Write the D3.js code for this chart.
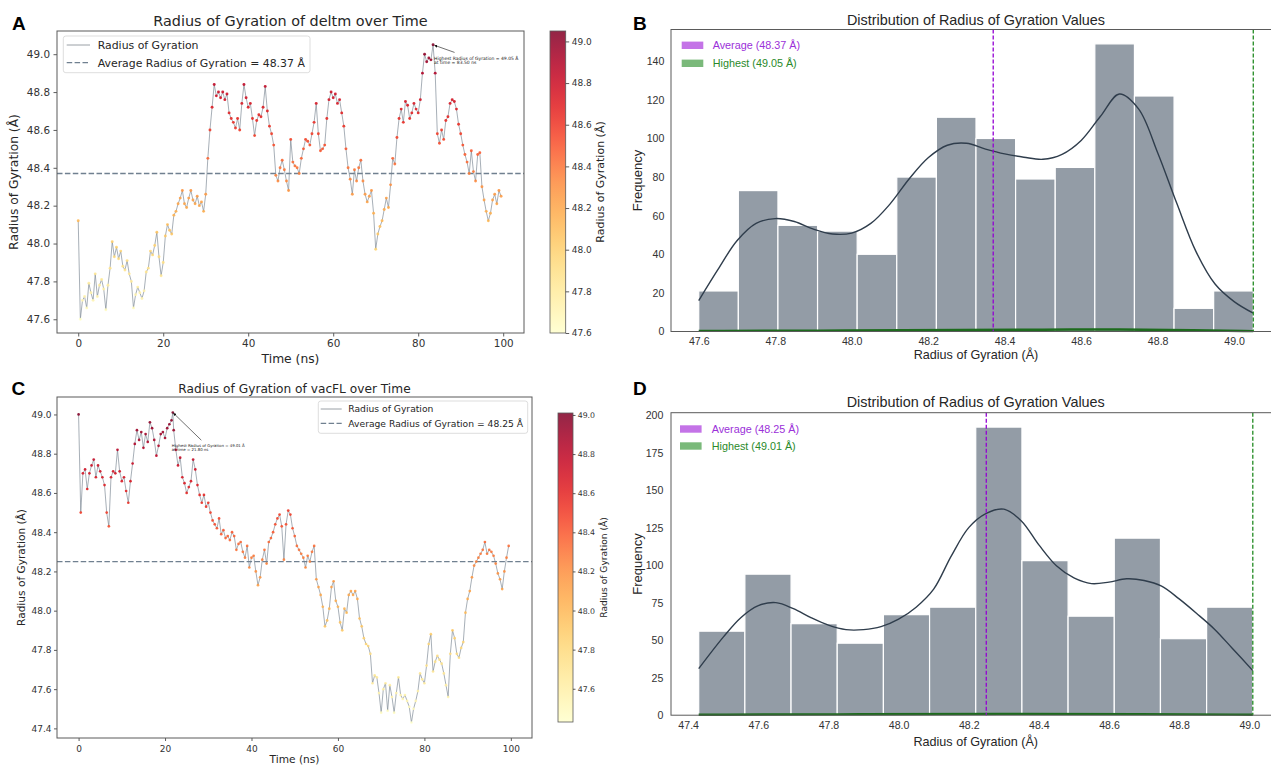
<!DOCTYPE html>
<html>
<head>
<meta charset="utf-8">
<title>Radius of Gyration – deltm and vacFL</title>
<script src="https://cdn.jsdelivr.net/npm/d3@7/dist/d3.min.js"></script>
<style>
  html, body { margin: 0; padding: 0; background: #fff; }
  svg { display: block; }
</style>
</head>
<body>
<svg id="fig" width="1271" height="765"></svg>
<script>
// ---------------- data ----------------
// Rg samples (Å) every 0.5 ns over a 0–99.9 ns trajectory
const sampleStepNs = 0.5;
const trajectoryEndNs = 99.9;

const deltmRg = [
  48.12, 47.60, 47.70, 47.72, 47.66, 47.79, 47.74, 47.70, 47.84, 47.72,
  47.78, 47.81, 47.76, 47.65, 47.78, 47.87, 48.01, 47.93, 47.98, 47.92,
  47.96, 47.88, 47.86, 47.91, 47.84, 47.80, 47.66, 47.73, 47.77, 47.74,
  47.71, 47.75, 47.85, 47.87, 47.96, 47.94, 47.99, 48.06, 47.93, 47.83,
  47.90, 48.04, 48.10, 48.07, 48.05, 48.15, 48.17, 48.21, 48.24, 48.28,
  48.21, 48.19, 48.24, 48.28, 48.23, 48.21, 48.25, 48.20, 48.22, 48.17,
  48.26, 48.45, 48.60, 48.72, 48.84, 48.78, 48.80, 48.77, 48.80, 48.76,
  48.79, 48.69, 48.66, 48.64, 48.61, 48.66, 48.60, 48.74, 48.84, 48.77,
  48.72, 48.74, 48.66, 48.57, 48.65, 48.68, 48.67, 48.72, 48.83, 48.70,
  48.62, 48.58, 48.52, 48.36, 48.33, 48.40, 48.44, 48.39, 48.33, 48.28,
  48.55, 48.43, 48.41, 48.40, 48.37, 48.45, 48.50, 48.55, 48.54, 48.52,
  48.58, 48.64, 48.74, 48.58, 48.49, 48.50, 48.52, 48.66, 48.76, 48.80,
  48.77, 48.79, 48.74, 48.76, 48.69, 48.62, 48.50, 48.40, 48.34, 48.26,
  48.39, 48.33, 48.40, 48.44, 48.33, 48.26, 48.22, 48.25, 48.28, 48.16,
  47.97, 48.05, 48.09, 48.12, 48.18, 48.24, 48.19, 48.31, 48.45, 48.42,
  48.56, 48.66, 48.71, 48.64, 48.75, 48.73, 48.66, 48.69, 48.74, 48.71,
  48.69, 48.76, 48.90, 49.00, 48.96, 48.98, 48.97, 49.05, 48.90, 48.58,
  48.53, 48.60, 48.55, 48.65, 48.67, 48.74, 48.76, 48.75, 48.71, 48.63,
  48.58, 48.52, 48.47, 48.43, 48.37, 48.49, 48.38, 48.33, 48.47, 48.48,
  48.30, 48.23, 48.17, 48.12, 48.16, 48.23, 48.26, 48.21, 48.28, 48.25
];
const deltmAverage = 48.37;

const vacflRg = [
  49.00, 48.50, 48.70, 48.72, 48.62, 48.70, 48.74, 48.77, 48.68, 48.74,
  48.71, 48.68, 48.64, 48.50, 48.43, 48.68, 48.71, 48.70, 48.82, 48.71,
  48.66, 48.68, 48.61, 48.55, 48.66, 48.75, 48.85, 48.92, 48.87, 48.91,
  48.83, 48.90, 48.86, 48.96, 48.93, 48.87, 48.79, 48.84, 48.90, 48.91,
  48.88, 48.93, 48.95, 48.97, 48.92, 48.82, 48.74, 48.78, 48.68, 48.65,
  48.60, 48.63, 48.66, 48.77, 48.72, 48.64, 48.59, 48.55, 48.59, 48.53,
  48.55, 48.50, 48.46, 48.44, 48.42, 48.47, 48.39, 48.41, 48.37, 48.38,
  48.36, 48.40, 48.38, 48.31, 48.34, 48.35, 48.30, 48.27, 48.33, 48.22,
  48.27, 48.28, 48.20, 48.13, 48.17, 48.26, 48.31, 48.24, 48.35, 48.37,
  48.40, 48.44, 48.47, 48.49, 48.43, 48.26, 48.44, 48.51, 48.49, 48.42,
  48.38, 48.33, 48.31, 48.29, 48.27, 48.22, 48.28, 48.25, 48.30, 48.33,
  48.16, 48.12, 48.08, 48.02, 47.92, 47.95, 48.01, 48.12, 48.15, 48.05,
  48.02, 47.94, 47.90, 48.01, 47.99, 48.08, 48.10, 48.08, 48.10, 48.06,
  47.96, 47.92, 47.86, 47.83, 47.82, 47.78, 47.63, 47.67, 47.66, 47.58,
  47.48, 47.60, 47.63, 47.49, 47.62, 47.56, 47.48, 47.58, 47.66, 47.57,
  47.55, 47.57, 47.54, 47.51, 47.43, 47.50, 47.54, 47.59, 47.68, 47.65,
  47.63, 47.72, 47.83, 47.88, 47.69, 47.74, 47.77, 47.75, 47.73, 47.68,
  47.62, 47.56, 47.78, 47.90, 47.86, 47.78, 47.76, 47.81, 47.84, 47.99,
  48.06, 48.10, 48.17, 48.23, 48.25, 48.27, 48.29, 48.31, 48.35, 48.29,
  48.31, 48.30, 48.28, 48.24, 48.19, 48.16, 48.11, 48.20, 48.27, 48.33
];
// off-grid frame holding the vacFL maximum
const vacflExtraTimes = [21.8];
const vacflExtraRg = [49.01];
const vacflAverage = 48.25;

// histogram counts (1000 frames each) over equal-width bins from min to max Rg
const deltmHistCounts = [21, 73, 55, 52, 40, 80, 111, 100, 79, 85, 149, 122, 12, 21];
const vacflHistCounts = [56, 94, 61, 48, 67, 72, 192, 103, 66, 118, 51, 72];

// KDE curves, in frequency units
const deltmKdeX = [47.60, 47.65, 47.70, 47.75, 47.80, 47.85, 47.90, 47.95, 48.00, 48.05,
                   48.10, 48.15, 48.20, 48.25, 48.30, 48.35, 48.40, 48.45, 48.50, 48.55,
                   48.60, 48.65, 48.70, 48.75, 48.80, 48.85, 48.90, 48.95, 49.00, 49.05];
const deltmKdeY = [16, 32, 47, 56, 58.5, 57, 53, 50.5, 51, 56,
                   66, 79, 90, 96.5, 97.5, 94.5, 92, 90.3, 89.2, 91.8,
                   99, 111.4, 123, 115.3, 92.6, 66.4, 41.5, 24.6, 15.5, 9.5];
const vacflKdeX = [47.43, 47.50, 47.55, 47.60, 47.65, 47.70, 47.75, 47.80, 47.85, 47.90,
                   47.95, 48.00, 48.05, 48.10, 48.15, 48.20, 48.25, 48.30, 48.35, 48.40,
                   48.45, 48.50, 48.55, 48.60, 48.65, 48.70, 48.75, 48.80, 48.85, 48.90,
                   48.95, 49.01];
const vacflKdeY = [31, 52, 65, 73, 75, 71, 65, 60, 57, 57,
                   59, 64, 72, 84, 106, 125, 134.5, 137.3, 129.5, 113.5,
                   99.6, 91.5, 87.7, 88.7, 90.9, 89.8, 86, 77.5, 67.8, 57.5,
                   45, 29.7];

// near-zero curve for the "highest" overlay
const deltmHighestX = [47.60, 48.00, 48.30, 48.50, 48.70, 48.90, 49.05];
const deltmHighestY = [0.3, 0.5, 0.8, 0.9, 1.2, 0.6, 0.2];
const vacflHighestX = [47.43, 47.90, 48.30, 48.70, 49.01];
const vacflHighestY = [0.3, 0.6, 1.0, 0.8, 0.3];

// tick labels
const timeTicks = [0, 20, 40, 60, 80, 100];
const deltmRgTicks = [47.6, 47.8, 48.0, 48.2, 48.4, 48.6, 48.8, 49.0];
const vacflRgTicks = [47.4, 47.6, 47.8, 48.0, 48.2, 48.4, 48.6, 48.8, 49.0];
const deltmColorTicks = [47.6, 47.8, 48.0, 48.2, 48.4, 48.6, 48.8, 49.0];
const vacflColorTicks = [47.6, 47.8, 48.0, 48.2, 48.4, 48.6, 48.8, 49.0];
const deltmFreqTicks = [0, 20, 40, 60, 80, 100, 120, 140];
const vacflFreqTicks = [0, 25, 50, 75, 100, 125, 150, 175, 200];
const deltmHistTicks = [47.6, 47.8, 48.0, 48.2, 48.4, 48.6, 48.8, 49.0];
const vacflHistTicks = [47.4, 47.6, 47.8, 48.0, 48.2, 48.4, 48.6, 48.8, 49.0];

// ---------------- drawing ----------------
const MPL_FONT = '"DejaVu Sans", "Liberation Sans", sans-serif';
const SNS_FONT = '"Liberation Sans", Arial, Helvetica, sans-serif';
const svg = d3.select('#fig');
const defs = svg.append('defs');

defs.append('marker').attr('id', 'arrowHead')
  .attr('viewBox', '0 0 10 10').attr('refX', 9).attr('refY', 5)
  .attr('markerWidth', 5).attr('markerHeight', 5).attr('orient', 'auto')
  .append('path').attr('d', 'M0,0 L10,5 L0,10 z').attr('fill', '#111');

function txt(g, x, y, s, o = {}) {
  return g.append('text').attr('x', x).attr('y', y).text(s)
    .attr('font-family', o.family || MPL_FONT)
    .attr('font-size', o.size || 10)
    .attr('font-weight', o.weight || 'normal')
    .attr('fill', o.fill || '#262626')
    .attr('text-anchor', o.anchor || 'start');
}
function vtxt(g, x, y, s, o = {}) {
  return g.append('text').attr('transform', `translate(${x},${y}) rotate(-90)`).text(s)
    .attr('font-family', o.family || MPL_FONT)
    .attr('font-size', o.size || 10)
    .attr('fill', o.fill || '#262626')
    .attr('text-anchor', 'middle');
}
function styleAxis(sel, size, family, color) {
  sel.attr('font-size', null).attr('font-family', null);
  sel.select('.domain').remove();
  sel.selectAll('.tick line').attr('stroke', '#333').attr('stroke-width', 0.8);
  sel.selectAll('.tick text').attr('fill', color || '#333')
    .attr('font-size', size).attr('font-family', family);
}
const withMargin = ([lo, hi]) => [lo - (hi - lo) * 0.05, hi + (hi - lo) * 0.05];

function drawSeriesPanel(p) {
  const g = svg.append('g');
  const times = p.values.map((_, i) => i * sampleStepNs);
  const pts = p.values.map((v, i) => ({ t: times[i], v }));
  (p.extraTimes || []).forEach((t, i) => pts.push({ t, v: p.extraValues[i] }));
  pts.sort((a, b) => a.t - b.t);

  const vExt = d3.extent(pts, d => d.v);
  const b = p.box;
  const x = d3.scaleLinear().domain(withMargin([0, trajectoryEndNs])).range([b.x0, b.x1]);
  const y = d3.scaleLinear().domain(withMargin(vExt)).range([b.y1, b.y0]);
  const colorOf = d3.scaleSequential(d3.interpolateYlOrRd).domain(vExt);

  const clipId = p.id + '-clip';
  defs.append('clipPath').attr('id', clipId).append('rect')
    .attr('x', b.x0).attr('y', b.y0).attr('width', b.x1 - b.x0).attr('height', b.y1 - b.y0);
  const plot = g.append('g').attr('clip-path', `url(#${clipId})`);

  plot.append('path').datum(pts)
    .attr('d', d3.line().x(d => x(d.t)).y(d => y(d.v)))
    .attr('fill', 'none').attr('stroke', '#7d8894')
    .attr('stroke-width', 0.8).attr('stroke-opacity', 0.85);

  plot.append('line')
    .attr('x1', b.x0).attr('x2', b.x1)
    .attr('y1', y(p.average)).attr('y2', y(p.average))
    .attr('stroke', '#708090').attr('stroke-width', 1.3)
    .attr('stroke-dasharray', '5.5,2.4');

  plot.selectAll('circle').data(pts).join('circle')
    .attr('cx', d => x(d.t)).attr('cy', d => y(d.v)).attr('r', p.dotR)
    .attr('fill', d => colorOf(d.v)).attr('fill-opacity', 0.88);

  // axes
  g.append('g').attr('transform', `translate(0,${b.y1})`)
    .call(d3.axisBottom(x).tickValues(timeTicks).tickFormat(d3.format('d'))
      .tickSize(p.tickSize).tickPadding(p.xPad))
    .call(styleAxis, p.tickFont, MPL_FONT);
  g.append('g').attr('transform', `translate(${b.x0},0)`)
    .call(d3.axisLeft(y).tickValues(p.yTicks).tickFormat(d3.format('.1f'))
      .tickSize(p.tickSize).tickPadding(p.yPad))
    .call(styleAxis, p.tickFont, MPL_FONT);

  g.append('rect').attr('x', b.x0).attr('y', b.y0)
    .attr('width', b.x1 - b.x0).attr('height', b.y1 - b.y0)
    .attr('fill', 'none').attr('stroke', '#5a5a5a').attr('stroke-width', 1);

  // texts
  const cx = (b.x0 + b.x1) / 2, cy = (b.y0 + b.y1) / 2;
  txt(g, cx, p.titleY, p.title, { size: p.titleFont, anchor: 'middle' });
  txt(g, cx, p.xLabelY, 'Time (ns)', { size: p.labelFont, anchor: 'middle' });
  vtxt(g, p.yLabelX, cy, 'Radius of Gyration (Å)', { size: p.labelFont });
  txt(g, p.letter.x, p.letter.y, p.letter.s, { size: 19, weight: 'bold', family: SNS_FONT, fill: '#000' });

  // legend
  const L = p.legend;
  g.append('rect').attr('x', L.x).attr('y', L.y).attr('width', L.w).attr('height', L.h)
    .attr('rx', 2.5).attr('fill', '#fff').attr('fill-opacity', 0.8)
    .attr('stroke', '#d4d4d4').attr('stroke-width', 0.8);
  g.append('line').attr('x1', L.lx0).attr('x2', L.lx1).attr('y1', L.r1).attr('y2', L.r1)
    .attr('stroke', '#9aa0a6').attr('stroke-width', 1);
  g.append('line').attr('x1', L.lx0).attr('x2', L.lx1).attr('y1', L.r2).attr('y2', L.r2)
    .attr('stroke', '#708090').attr('stroke-width', 1.3).attr('stroke-dasharray', '5.5,2.4');
  txt(g, L.tx, L.r1 + L.font * 0.36, 'Radius of Gyration', { size: L.font });
  txt(g, L.tx, L.r2 + L.font * 0.36,
    `Average Radius of Gyration = ${p.average.toFixed(2)} Å`, { size: L.font });

  // annotation of the maximum
  const peak = d3.greatest(pts, d => d.v);
  const px = x(peak.t), py = y(peak.v), A = p.annot;
  g.append('line')
    .attr('x1', px + A.tail[0]).attr('y1', py + A.tail[1])
    .attr('x2', px + A.tip[0]).attr('y2', py + A.tip[1])
    .attr('stroke', '#111').attr('stroke-width', 0.6)
    .attr('marker-end', 'url(#arrowHead)');
  txt(g, px + A.text[0], py + A.text[1],
    `Highest Radius of Gyration = ${peak.v.toFixed(2)} Å`, { size: A.size, fill: '#222' });
  txt(g, px + A.text[0], py + A.text[1] + A.size * 1.05,
    `at time = ${peak.t.toFixed(2)} ns`, { size: A.size, fill: '#222' });

  // colorbar
  const cb = p.colorbar;
  const gradId = p.id + '-grad';
  const grad = defs.append('linearGradient').attr('id', gradId)
    .attr('x1', 0).attr('y1', 1).attr('x2', 0).attr('y2', 0);
  d3.range(0, 1.0001, 0.05).forEach(f =>
    grad.append('stop').attr('offset', f).attr('stop-color', d3.interpolateYlOrRd(f)));
  g.append('rect').attr('x', cb.x0).attr('y', cb.y0)
    .attr('width', cb.x1 - cb.x0).attr('height', cb.y1 - cb.y0)
    .attr('fill', `url(#${gradId})`).attr('fill-opacity', 0.85)
    .attr('stroke', '#5a5a5a').attr('stroke-width', 0.8);
  const cScale = d3.scaleLinear().domain(vExt).range([cb.y1, cb.y0]);
  g.append('g').attr('transform', `translate(${cb.x1},0)`)
    .call(d3.axisRight(cScale).tickValues(p.colorTicks).tickFormat(d3.format('.1f'))
      .tickSize(cb.tick).tickPadding(cb.pad))
    .call(styleAxis, cb.font, MPL_FONT);
  vtxt(g, cb.labelX, (cb.y0 + cb.y1) / 2, 'Radius of Gyration (Å)', { size: cb.labelFont });
}

function drawHistPanel(p) {
  const g = svg.append('g');
  const b = p.box;
  const [lo, hi] = d3.extent(p.series);
  const n = p.counts.length;
  const edges = d3.range(n + 1).map(i => lo + (hi - lo) * i / n);
  const bins = p.counts.map((c, i) => ({ x0: edges[i], x1: edges[i + 1], c }));

  const x = d3.scaleLinear().domain(withMargin([lo, hi])).range([b.x0, b.x1]);
  const y = d3.scaleLinear().domain([0, d3.max(p.counts) * 1.05]).range([b.y1, b.y0]);

  g.selectAll('rect.bar').data(bins).join('rect').attr('class', 'bar')
    .attr('x', d => x(d.x0)).attr('width', d => x(d.x1) - x(d.x0))
    .attr('y', d => y(d.c)).attr('height', d => y(0) - y(d.c))
    .attr('fill', '#939ca6').attr('stroke', '#fff').attr('stroke-width', 1.2);

  g.append('path').datum(p.kdeX.map((v, i) => [v, p.kdeY[i]]))
    .attr('d', d3.line().x(d => x(d[0])).y(d => y(d[1])).curve(d3.curveCatmullRom))
    .attr('fill', 'none').attr('stroke', '#2f3d4c').attr('stroke-width', 1.4);

  g.append('path').datum(p.highX.map((v, i) => [v, p.highY[i]]))
    .attr('d', d3.line().x(d => x(d[0])).y(d => y(d[1])).curve(d3.curveBasis))
    .attr('fill', 'none').attr('stroke', '#1d6b1d').attr('stroke-width', 2.4);

  const avgX = x(p.average), maxX = x(hi);
  g.append('line').attr('x1', avgX).attr('x2', avgX).attr('y1', b.y0).attr('y2', b.y1)
    .attr('stroke', '#9400d3').attr('stroke-width', 1.3).attr('stroke-dasharray', '4,2');
  g.append('line').attr('x1', maxX).attr('x2', maxX).attr('y1', b.y0).attr('y2', b.y1)
    .attr('stroke', '#228b22').attr('stroke-width', 1.3).attr('stroke-dasharray', '4,2');

  g.append('g').attr('transform', `translate(0,${b.y1})`)
    .call(d3.axisBottom(x).tickValues(p.xTicks).tickFormat(d3.format('.1f'))
      .tickSize(0).tickPadding(p.xPad))
    .call(styleAxis, 10.6, SNS_FONT, '#333');
  g.append('g').attr('transform', `translate(${b.x0},0)`)
    .call(d3.axisLeft(y).tickValues(p.yTicks).tickFormat(d3.format('d'))
      .tickSize(0).tickPadding(p.yPad))
    .call(styleAxis, 10.6, SNS_FONT, '#333');

  g.append('rect').attr('x', b.x0).attr('y', b.y0)
    .attr('width', b.x1 - b.x0).attr('height', b.y1 - b.y0)
    .attr('fill', 'none').attr('stroke', '#5a5a5a').attr('stroke-width', 1);

  const cx = (b.x0 + b.x1) / 2, cy = (b.y0 + b.y1) / 2;
  txt(g, cx, p.titleY, 'Distribution of Radius of Gyration Values',
    { size: 14.4, anchor: 'middle', family: SNS_FONT });
  txt(g, cx, p.xLabelY, 'Radius of Gyration (Å)', { size: 12.6, anchor: 'middle', family: SNS_FONT });
  vtxt(g, 642, cy, 'Frequency', { size: 13, family: SNS_FONT });
  txt(g, p.letter.x, p.letter.y, p.letter.s, { size: 19, weight: 'bold', family: SNS_FONT, fill: '#000' });

  const L = p.legend;
  const rows = [
    { y: L.r1, fill: '#9400d3', op: 0.55, tc: '#9b30d9', s: `Average (${p.average.toFixed(2)} Å)` },
    { y: L.r2, fill: '#228b22', op: 0.6, tc: '#2a8a2a', s: `Highest (${hi.toFixed(2)} Å)` }
  ];
  rows.forEach(r => {
    g.append('rect').attr('x', L.px).attr('y', r.y - 3.7).attr('width', 21.6).attr('height', 7.4)
      .attr('fill', r.fill).attr('fill-opacity', r.op);
    txt(g, L.tx, r.y + 3.9, r.s, { size: 10.8, family: SNS_FONT, fill: r.tc });
  });
}

// A — deltm time series
drawSeriesPanel({
  id: 'deltm', values: deltmRg, average: deltmAverage,
  box: { x0: 57, x1: 524, y0: 31, y1: 333 },
  yTicks: deltmRgTicks, colorTicks: deltmColorTicks,
  dotR: 1.45, tickSize: 3.5, xPad: 3.5, yPad: 3.5, tickFont: 10.4,
  title: 'Radius of Gyration of deltm over Time', titleFont: 14.4, titleY: 25.5,
  labelFont: 12.3, xLabelY: 363, yLabelX: 17.8,
  letter: { s: 'A', x: 12, y: 29.5 },
  legend: { x: 63.3, y: 36, w: 246.7, h: 36.7, lx0: 66.7, lx1: 90, r1: 45, r2: 62.7, tx: 97.7, font: 10.9 },
  annot: { tail: [21.5, 7.7], tip: [1.5, 0.6], text: [1, 14.8], size: 4.5 },
  colorbar: { x0: 550, x1: 565.7, y0: 31, y1: 333, tick: 3.5, pad: 2.5, font: 9, labelX: 603.5, labelFont: 11 }
});

// C — vacFL time series
drawSeriesPanel({
  id: 'vacfl', values: vacflRg, extraTimes: vacflExtraTimes, extraValues: vacflExtraRg,
  average: vacflAverage,
  box: { x0: 57, x1: 532, y0: 397, y1: 738 },
  yTicks: vacflRgTicks, colorTicks: vacflColorTicks,
  dotR: 1.35, tickSize: 3, xPad: 4.5, yPad: 2.5, tickFont: 9,
  title: 'Radius of Gyration of vacFL over Time', titleFont: 12.2, titleY: 392.7,
  labelFont: 10.6, xLabelY: 762.5, yLabelX: 24.5,
  letter: { s: 'C', x: 11.5, y: 395 },
  legend: { x: 318.3, y: 401, w: 209.4, h: 32.3, lx0: 320.7, lx1: 341.7, r1: 409, r2: 423.3, tx: 348.3, font: 9.2 },
  annot: { tail: [28.5, 27.7], tip: [0.6, 0.6], text: [-1, 34.4], size: 3.9 },
  colorbar: { x0: 558, x1: 573, y0: 413, y1: 722, tick: 2.5, pad: 2.2, font: 7.8, labelX: 607, labelFont: 9.1 }
});

// B — deltm distribution
drawHistPanel({
  series: deltmRg, counts: deltmHistCounts, average: deltmAverage,
  kdeX: deltmKdeX, kdeY: deltmKdeY, highX: deltmHighestX, highY: deltmHighestY,
  box: { x0: 671, x1: 1281, y0: 29.5, y1: 331.5 },
  xTicks: deltmHistTicks, yTicks: deltmFreqTicks, xPad: 6.3, yPad: 6.7,
  titleY: 25, xLabelY: 359.2,
  letter: { s: 'B', x: 633, y: 29.5 },
  legend: { px: 681.7, tx: 712.7, r1: 45.3, r2: 63.3 }
});

// D — vacFL distribution
drawHistPanel({
  series: vacflRg.concat(vacflExtraRg), counts: vacflHistCounts, average: vacflAverage,
  kdeX: vacflKdeX, kdeY: vacflKdeY, highX: vacflHighestX, highY: vacflHighestY,
  box: { x0: 671, x1: 1280.5, y0: 412.7, y1: 715.2 },
  xTicks: vacflHistTicks, yTicks: vacflFreqTicks, xPad: 6.5, yPad: 7.7,
  titleY: 407, xLabelY: 745.5,
  letter: { s: 'D', x: 633, y: 395 },
  legend: { px: 680, tx: 711.7, r1: 429, r2: 446 }
});
</script>
</body>
</html>
